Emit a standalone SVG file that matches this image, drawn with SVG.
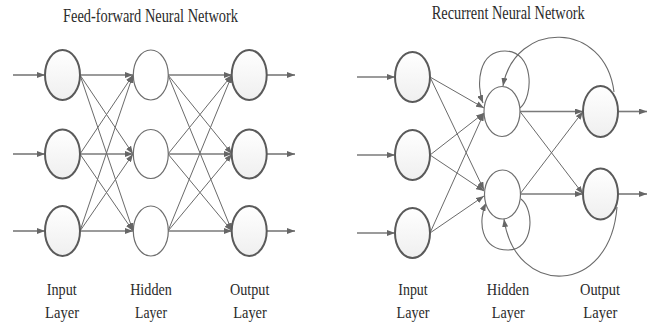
<svg xmlns="http://www.w3.org/2000/svg" width="654" height="326" viewBox="0 0 654 326">
<style>
.t{font-family:"Liberation Serif","Times New Roman",serif;fill:#2b2b2b;text-anchor:middle}
.title{font-size:18px}
.lbl{font-size:17.5px}
.io{fill:url(#g);stroke:#5a5a5a;stroke-width:2}
.hid{fill:#fff;stroke:#6e6e6e;stroke-width:1.2}
.d{stroke:#6a6a6a;stroke-width:1;fill:none;marker-end:url(#ah)}
.h{stroke:#7a7a7a;stroke-width:1.6;fill:none;marker-end:url(#ah)}
.c{stroke:#6a6a6a;stroke-width:1.1;fill:none;marker-end:url(#ah)}
</style>
<defs>
<linearGradient id="g" x1="0" y1="0" x2="0" y2="1">
<stop offset="0" stop-color="#ffffff"/>
<stop offset="1" stop-color="#efefef"/>
</linearGradient>
<marker id="ah" viewBox="0 0 8 6" refX="8" refY="3" markerWidth="8" markerHeight="6" markerUnits="userSpaceOnUse" orient="auto">
<path d="M0,0 L8,3 L0,6 z" fill="#666"/>
</marker>
</defs>

<text class="t title" x="150.5" y="21.5" textLength="175" lengthAdjust="spacingAndGlyphs">Feed-forward Neural Network</text>
<text class="t title" x="508.3" y="18.5" textLength="153" lengthAdjust="spacingAndGlyphs">Recurrent Neural Network</text>

<g id="connectors">
<path class="h" d="M13,75 H45"/>
<path class="h" d="M13,154 H45"/>
<path class="h" d="M13,231 H45"/>
<path class="h" d="M80,75 H133"/>
<path class="d" d="M80,75 L133,154"/>
<path class="d" d="M80,75 L133,231"/>
<path class="d" d="M80,154 L133,75"/>
<path class="h" d="M80,154 H133"/>
<path class="d" d="M80,154 L133,231"/>
<path class="d" d="M80,231 L133,75"/>
<path class="d" d="M80,231 L133,154"/>
<path class="h" d="M80,231 H133"/>
<path class="h" d="M168,75 H232"/>
<path class="d" d="M168,75 L232,154"/>
<path class="d" d="M168,75 L232,231"/>
<path class="d" d="M168,154 L232,75"/>
<path class="h" d="M168,154 H232"/>
<path class="d" d="M168,154 L232,231"/>
<path class="d" d="M168,231 L232,75"/>
<path class="d" d="M168,231 L232,154"/>
<path class="h" d="M168,231 H232"/>
<path class="h" d="M267,75 H295"/>
<path class="h" d="M267,154 H295"/>
<path class="h" d="M267,231 H295"/>

<path class="h" d="M357,77 H395"/>
<path class="h" d="M357,155 H395"/>
<path class="h" d="M357,233 H395"/>
<path class="d" d="M430,77 L484,108"/>
<path class="d" d="M430,77 L484,190"/>
<path class="d" d="M430,155 L484,113"/>
<path class="d" d="M430,155 L484,191"/>
<path class="d" d="M430,233 L484,113"/>
<path class="d" d="M430,233 L484,196"/>
<path class="h" d="M520,111.5 H583"/>
<path class="d" d="M520,111.5 L583,194"/>
<path class="d" d="M520,194 L583,111.5"/>
<path class="h" d="M520,194 H583"/>
<path class="h" d="M618,111.5 H647"/>
<path class="h" d="M618,194 H647"/>
<path class="c" d="M520,108 C534,96 534,51 505,51 C478,51 476,85 483,103"/>
<path class="c" d="M614,92 C605,20 515,20 503,86"/>
<path class="c" d="M521,199 C535,210 534,250 508,250 C480,250 478,220 486,203"/>
<path class="c" d="M617,207 C610,297 515,297 504,219"/>
</g>

<g id="ff-input-1"><ellipse class="io" cx="62.5" cy="75" rx="17.5" ry="25"/></g>
<g id="ff-input-2"><ellipse class="io" cx="62.5" cy="154" rx="17.5" ry="24.5"/></g>
<g id="ff-input-3"><ellipse class="io" cx="62.5" cy="231" rx="17.5" ry="25"/></g>
<g id="ff-hidden-1"><ellipse class="hid" cx="150.8" cy="75" rx="17.5" ry="25"/></g>
<g id="ff-hidden-2"><ellipse class="hid" cx="150.8" cy="154" rx="17.5" ry="24.5"/></g>
<g id="ff-hidden-3"><ellipse class="hid" cx="150.8" cy="231" rx="17.5" ry="25"/></g>
<g id="ff-output-1"><ellipse class="io" cx="249.2" cy="75" rx="17.5" ry="25"/></g>
<g id="ff-output-2"><ellipse class="io" cx="249.2" cy="154" rx="17.5" ry="24.5"/></g>
<g id="ff-output-3"><ellipse class="io" cx="249.2" cy="231" rx="17.5" ry="25"/></g>

<g id="rnn-input-1"><ellipse class="io" cx="412.5" cy="77" rx="17.5" ry="25"/></g>
<g id="rnn-input-2"><ellipse class="io" cx="412.5" cy="155" rx="17.5" ry="25"/></g>
<g id="rnn-input-3"><ellipse class="io" cx="412.5" cy="233" rx="17.5" ry="25"/></g>
<g id="rnn-hidden-1"><ellipse class="hid" cx="502" cy="111.5" rx="18" ry="25"/></g>
<g id="rnn-hidden-2"><ellipse class="hid" cx="502.5" cy="194.5" rx="18" ry="24.5"/></g>
<g id="rnn-output-1"><ellipse class="io" cx="600.5" cy="111.5" rx="17.5" ry="25.5"/></g>
<g id="rnn-output-2"><ellipse class="io" cx="600.5" cy="194" rx="17.5" ry="25.5"/></g>

<g id="labels-ff">
<text class="t lbl" x="61.7" y="295" textLength="30" lengthAdjust="spacingAndGlyphs">Input</text>
<text class="t lbl" x="62" y="318" textLength="34" lengthAdjust="spacingAndGlyphs">Layer</text>
<text class="t lbl" x="151" y="295" textLength="41.7" lengthAdjust="spacingAndGlyphs">Hidden</text>
<text class="t lbl" x="151" y="318" textLength="32" lengthAdjust="spacingAndGlyphs">Layer</text>
<text class="t lbl" x="249.7" y="295" textLength="39.3" lengthAdjust="spacingAndGlyphs">Output</text>
<text class="t lbl" x="250" y="318" textLength="33.7" lengthAdjust="spacingAndGlyphs">Layer</text>
</g>
<g id="labels-rnn">
<text class="t lbl" x="413" y="295" textLength="29.4" lengthAdjust="spacingAndGlyphs">Input</text>
<text class="t lbl" x="413" y="318" textLength="33" lengthAdjust="spacingAndGlyphs">Layer</text>
<text class="t lbl" x="508" y="295" textLength="42.3" lengthAdjust="spacingAndGlyphs">Hidden</text>
<text class="t lbl" x="508.3" y="318" textLength="33" lengthAdjust="spacingAndGlyphs">Layer</text>
<text class="t lbl" x="600" y="295" textLength="40" lengthAdjust="spacingAndGlyphs">Output</text>
<text class="t lbl" x="600.3" y="318" textLength="34" lengthAdjust="spacingAndGlyphs">Layer</text>
</g>
</svg>
